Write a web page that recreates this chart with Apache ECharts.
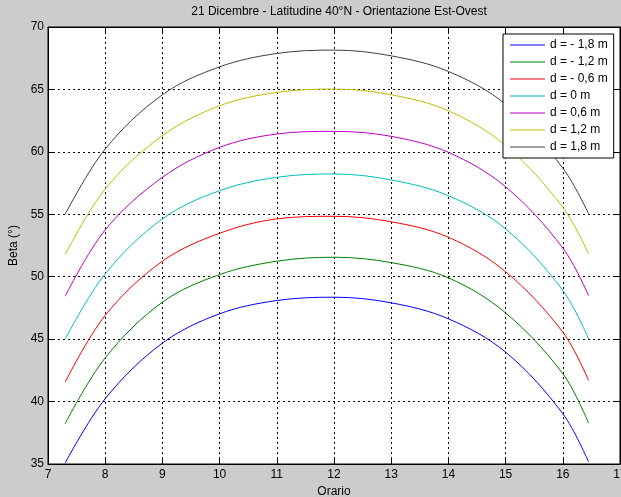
<!DOCTYPE html>
<html>
<head>
<meta charset="utf-8">
<script src="https://cdn.jsdelivr.net/npm/echarts@6/dist/echarts.min.js"></script>
<style>
html,body{margin:0;padding:0;background:#cccccc;}
#chart{width:621px;height:497px;}
</style>
</head>
<body>
<div id="chart"></div>
<script>
var hours = [7.3, 8, 9, 10, 11, 12, 13, 14, 15, 16, 16.45];
var seriesNames = ['d = - 1,8 m', 'd = - 1,2 m', 'd = - 0,6 m', 'd = 0 m', 'd = 0,6 m', 'd = 1,2 m', 'd = 1,8 m'];
var dMinus18 = [35.08, 40.23, 44.68, 47.03, 48.09, 48.36, 47.91, 46.63, 43.96, 39.03, 35.16];
var dMinus12 = [38.23, 43.50, 47.96, 50.17, 51.24, 51.56, 51.13, 49.91, 47.10, 42.23, 38.28];
var dMinus06 = [41.56, 46.90, 51.24, 53.48, 54.63, 54.84, 54.40, 53.16, 50.40, 45.56, 41.70];
var d0 = [45.00, 50.23, 54.63, 56.89, 57.96, 58.23, 57.75, 56.49, 53.83, 48.90, 45.03];
var dPlus06 = [48.44, 53.75, 57.96, 60.36, 61.43, 61.64, 61.24, 59.96, 57.20, 52.30, 48.50];
var dPlus12 = [51.77, 57.03, 61.30, 63.69, 64.76, 65.03, 64.57, 63.29, 60.50, 55.56, 51.83];
var dPlus18 = [55.00, 60.23, 64.57, 66.81, 67.88, 68.15, 67.69, 66.44, 63.80, 58.70, 55.05];
var xTicks = [7, 8, 9, 10, 11, 12, 13, 14, 15, 16, 17];
var yTicks = [35, 40, 45, 50, 55, 60, 65, 70];
var titleText = '21 Dicembre - Latitudine 40°N - Orientazione Est-Ovest';
var xLabel = 'Orario';
var yLabel = 'Beta (°)';

var allValues = [dMinus18, dMinus12, dMinus06, d0, dPlus06, dPlus12, dPlus18];
var colors = ['#0000ff', '#008000', '#ff0000', '#00bfbf', '#bf00bf', '#bfbf00', '#404040'];
var FONT = 'Liberation Sans, Arial, sans-serif';

function pairs(vals) {
  return hours.map(function (h, i) { return [h, vals[i]]; });
}

var series = allValues.map(function (vals, i) {
  return {
    name: seriesNames[i],
    type: 'line',
    data: pairs(vals),
    smooth: 0.35,
    symbol: 'none',
    showSymbol: false,
    clip: true,
    lineStyle: { color: colors[i], width: 1 },
    itemStyle: { color: colors[i] },
    xAxisIndex: 0,
    yAxisIndex: 0
  };
});

var gridLine = { show: true, lineStyle: { color: '#000', width: 1, type: [2, 3] } };

var chart = echarts.init(document.getElementById('chart'), null, { renderer: 'canvas' });
chart.setOption({
  backgroundColor: '#cccccc',
  animation: false,
  title: {
    text: titleText,
    left: 334, textAlign: 'center',
    top: 1,
    textStyle: { fontFamily: FONT, fontSize: 12, fontWeight: 'normal', color: '#000' }
  },
  legend: {
    orient: 'vertical',
    left: 503, top: 34,
    data: seriesNames,
    icon: 'rect',
    itemWidth: 35, itemHeight: 1, itemGap: 3,
    padding: [4, 6, 4, 7],
    backgroundColor: '#fff',
    borderColor: '#000', borderWidth: 1,
    textStyle: { fontFamily: FONT, fontSize: 12, color: '#000', lineHeight: 14 }
  },
  grid: {
    left: 48, right: 1, top: 27, bottom: 33,
    outerBoundsMode: 'none',
    containLabel: false,
    show: true, backgroundColor: '#fff', borderColor: '#000', borderWidth: 1
  },
  xAxis: [{
    type: 'value', min: xTicks[0], max: xTicks[xTicks.length - 1], interval: 1,
    name: xLabel, nameLocation: 'middle', nameGap: 19,
    nameTextStyle: { fontFamily: FONT, fontSize: 12, color: '#000' },
    axisLine: { show: true, lineStyle: { color: '#000' } },
    axisTick: { show: true, inside: true, length: 5, lineStyle: { color: '#000' } },
    axisLabel: { fontFamily: FONT, fontSize: 12, color: '#000', margin: 5 },
    splitLine: gridLine
  }, {
    type: 'value', position: 'top', min: xTicks[0], max: xTicks[xTicks.length - 1], interval: 1,
    axisLine: { show: true, lineStyle: { color: '#000' } },
    axisTick: { show: true, inside: true, length: 5, lineStyle: { color: '#000' } },
    axisLabel: { show: false }, splitLine: { show: false }
  }],
  yAxis: [{
    type: 'value', min: yTicks[0], max: yTicks[yTicks.length - 1], interval: 5,
    name: yLabel, nameLocation: 'middle', nameGap: 22, nameRotate: 90,
    nameTextStyle: { fontFamily: FONT, fontSize: 12, color: '#000' },
    axisLine: { show: true, lineStyle: { color: '#000' } },
    axisTick: { show: true, inside: true, length: 5, lineStyle: { color: '#000' } },
    axisLabel: { fontFamily: FONT, fontSize: 12, color: '#000', margin: 4 },
    splitLine: gridLine
  }, {
    type: 'value', position: 'right', min: yTicks[0], max: yTicks[yTicks.length - 1], interval: 5,
    axisLine: { show: true, lineStyle: { color: '#000' } },
    axisTick: { show: true, inside: true, length: 5, lineStyle: { color: '#000' } },
    axisLabel: { show: false }, splitLine: { show: false }
  }],
  series: series
});
</script>
</body>
</html>
